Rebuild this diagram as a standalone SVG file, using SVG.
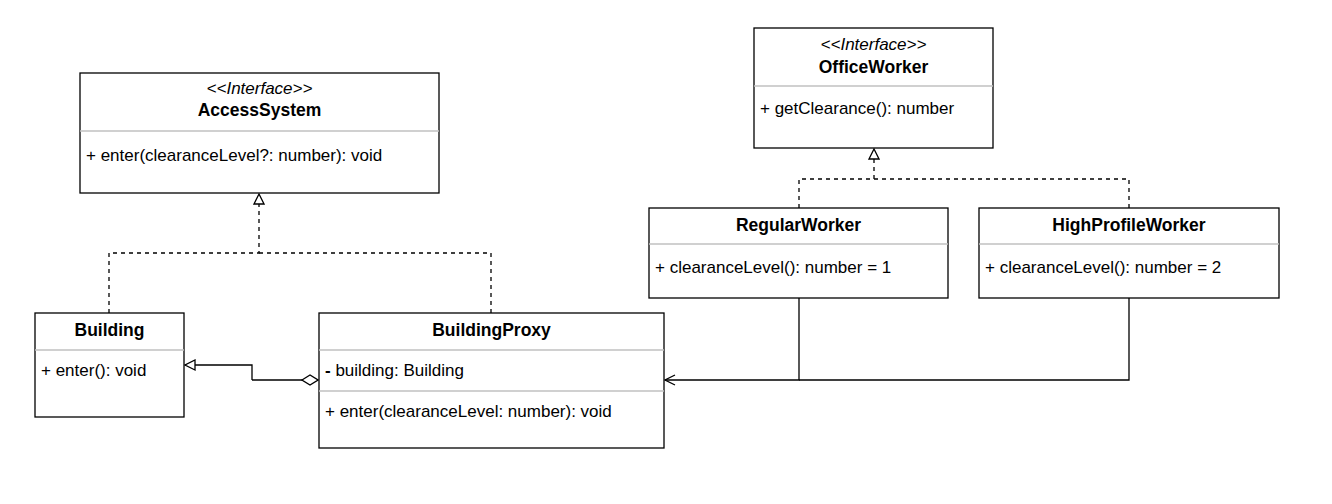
<svg xmlns="http://www.w3.org/2000/svg" width="1332" height="504" viewBox="0 0 1332 504">
<defs>
<style>
.box{fill:#fff;stroke:#000;stroke-width:1.3}
.sep{stroke:#c0c0c0;stroke-width:1.3}
text{font-family:"Liberation Sans",Arial,sans-serif;font-size:17px;fill:#000}
.t{font-weight:bold;text-anchor:middle;font-size:17.5px}
.s{font-style:italic;text-anchor:middle;font-size:17px}
.e{fill:none;stroke:#000;stroke-width:1.3}
.d{stroke-dasharray:4 4}
</style>
<marker id="tri" viewBox="0 0 12 12" refX="11" refY="6" markerWidth="12" markerHeight="12" markerUnits="userSpaceOnUse" orient="auto"><path d="M1,1 L11,6 L1,11 Z" fill="#fff" stroke="#000" stroke-width="1.3"/></marker>
<marker id="open" viewBox="0 0 12 12" refX="11" refY="6" markerWidth="12" markerHeight="12" markerUnits="userSpaceOnUse" orient="auto"><path d="M1,1 L11,6 L1,11" fill="none" stroke="#000" stroke-width="1.3"/></marker>
<marker id="dia" viewBox="0 0 18 12" refX="17" refY="6" markerWidth="18" markerHeight="12" markerUnits="userSpaceOnUse" orient="auto"><path d="M1,6 L9,1 L17,6 L9,11 Z" fill="#fff" stroke="#000" stroke-width="1.3"/></marker>
</defs>
<g id="connectors">
<path class="e d" d="M109,313 V253 H259 V194" marker-end="url(#tri)"/>
<path class="e d" d="M491,313 V253 H259"/>
<path class="e d" d="M799,208 V179 H874 V149" marker-end="url(#tri)"/>
<path class="e d" d="M1129,208 V179 H874"/>
<path class="e" d="M252,380 V365 H185" marker-end="url(#tri)"/>
<path class="e" d="M252,380 H318" marker-end="url(#dia)"/>
<path class="e" d="M799,298 V380 H665" marker-end="url(#open)"/>
<path class="e" d="M1129,298 V380 H799"/>
</g>
<g id="AccessSystem">
<rect class="box" x="80" y="73" width="359" height="120"/>
<line class="sep" x1="80" y1="131" x2="439" y2="131"/>
<text class="s" x="259.5" y="94">&lt;&lt;Interface&gt;&gt;</text>
<text class="t" x="259.5" y="116">AccessSystem</text>
<text x="86" y="161">+ enter(clearanceLevel?: number): void</text>
</g>
<g id="OfficeWorker">
<rect class="box" x="754" y="28" width="239" height="120"/>
<line class="sep" x1="754" y1="86" x2="993" y2="86"/>
<text class="s" x="873.5" y="50">&lt;&lt;Interface&gt;&gt;</text>
<text class="t" x="873.5" y="73">OfficeWorker</text>
<text x="760" y="114">+ getClearance(): number</text>
</g>
<g id="Building">
<rect class="box" x="35" y="313" width="149" height="104"/>
<line class="sep" x1="35" y1="350" x2="184" y2="350"/>
<text class="t" x="109.5" y="336">Building</text>
<text x="41" y="376">+ enter(): void</text>
</g>
<g id="BuildingProxy">
<rect class="box" x="319" y="313" width="345" height="135"/>
<line class="sep" x1="319" y1="350" x2="664" y2="350"/>
<line class="sep" x1="319" y1="391" x2="664" y2="391"/>
<text class="t" x="491.5" y="336">BuildingProxy</text>
<text x="325" y="376"><tspan font-weight="bold">-</tspan> building: Building</text>
<text x="325" y="417">+ enter(clearanceLevel: number): void</text>
</g>
<g id="RegularWorker">
<rect class="box" x="649" y="208" width="299" height="90"/>
<line class="sep" x1="649" y1="244" x2="948" y2="244"/>
<text class="t" x="798.5" y="231">RegularWorker</text>
<text x="655" y="273">+ clearanceLevel(): number = 1</text>
</g>
<g id="HighProfileWorker">
<rect class="box" x="979" y="208" width="300" height="90"/>
<line class="sep" x1="979" y1="244" x2="1279" y2="244"/>
<text class="t" x="1129" y="231">HighProfileWorker</text>
<text x="985" y="273">+ clearanceLevel(): number = 2</text>
</g>
</svg>
